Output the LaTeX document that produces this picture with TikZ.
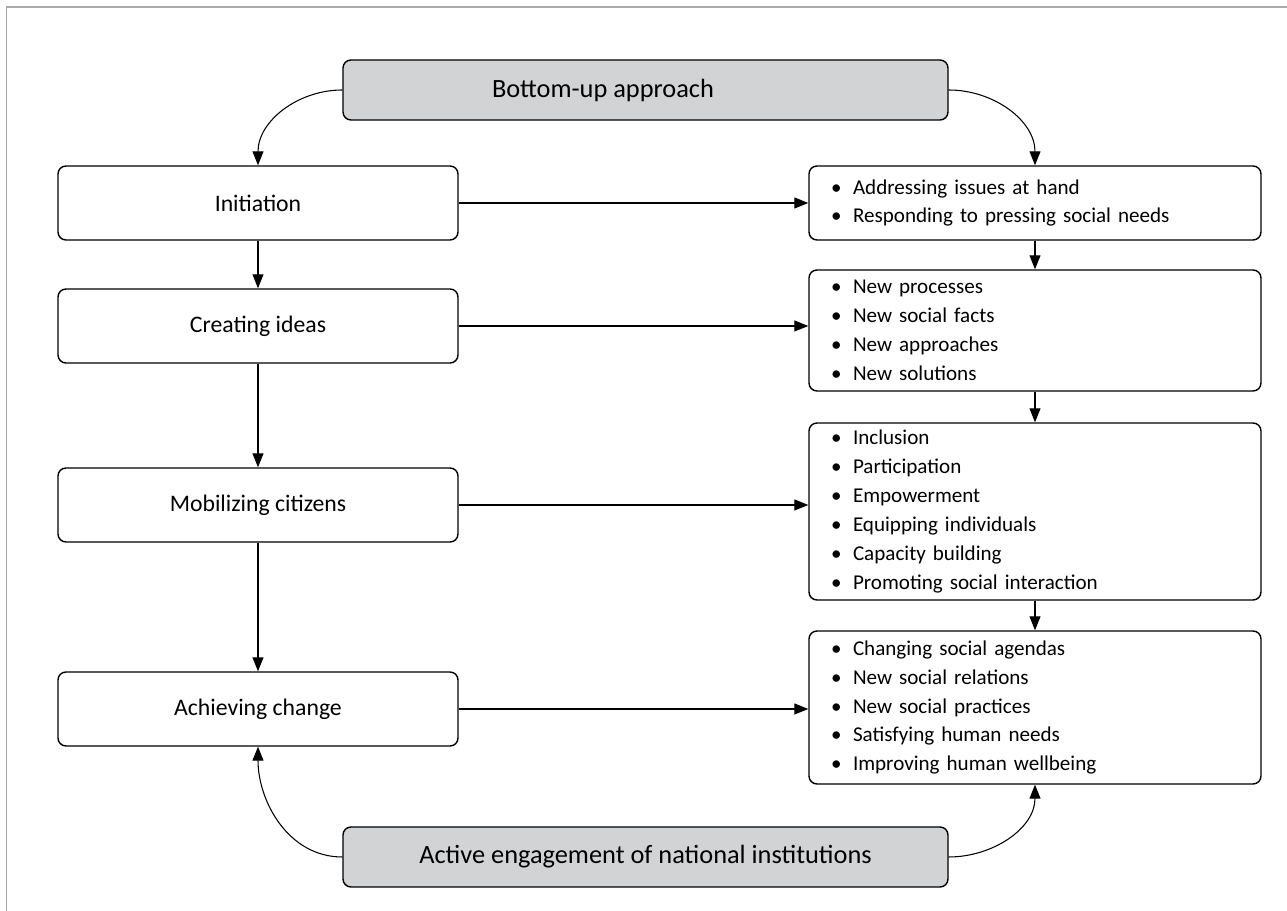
\documentclass[tikz,border=0pt]{standalone}
\usepackage{fontspec}
\setmainfont{Carlito}
\usetikzlibrary{arrows.meta}
\definecolor{boxgray}{HTML}{D2D3D5}
\definecolor{framegray}{HTML}{A9A9A9}
\newcommand{\itm}{\makebox[0.44cm][l]{\textbullet}}

\begin{document}
\begin{tikzpicture}[semithick, >={Triangle[length=0.28cm,width=0.22cm]},
    stage/.style={draw, rounded corners=0.16cm, line width=0.8pt, minimum width=8cm, minimum height=1.48cm, font=\fontsize{13.5}{16}\selectfont},
    outcome/.style={draw, rounded corners=0.16cm, line width=0.8pt, text width=8.16cm, inner xsep=0.44cm, align=left, font=\fontsize{12}{16.4}\selectfont},
    driver/.style={draw, fill=boxgray, rounded corners=0.16cm, line width=0.8pt, minimum width=12.1cm, minimum height=1.2cm, font=\fontsize{15}{18}\selectfont}]
            \useasboundingbox (0, 0) rectangle (25.74, 18.22);
            \draw[framegray, line width=1pt] (0.13, 0) -- (0.13, 18.08) -- (25.74, 18.08);

            % approaches
            \node[driver] (bottomup) at (12.91, 16.42) {Bottom-up approach\hspace*{1.7cm}};
            \node[driver] (national) at (12.91, 1.08) {Active engagement of national institutions};

            % stages
            \node[stage] (ini) at (5.16, 14.16) {Initiation};
            \node[stage] (ideas) at (5.16, 11.70) {Creating ideas};
            \node[stage] (mob) at (5.16, 8.12) {Mobilizing citizens};
            \node[stage] (change) at (5.16, 4.04) {Achieving change};

            % outcomes
            \node[outcome, minimum height=1.48cm] (res1) at (20.70, 14.16) {\itm Addressing issues at hand\\
                \itm Responding to pressing social needs};
            \node[outcome, minimum height=2.42cm] (res2) at (20.70, 11.61) {\itm New processes\\
                \itm New social facts\\
                \itm New approaches\\
                \itm New solutions};
            \node[outcome, minimum height=3.54cm] (res3) at (20.70, 7.99) {\itm Inclusion\\
                \itm Participation\\
                \itm Empowerment\\
                \itm Equipping individuals\\
                \itm Capacity building\\
                \itm Promoting social interaction};
            \node[outcome, minimum height=3.06cm] (res4) at (20.70, 4.07) {\itm Changing social agendas\\
                \itm New social relations\\
                \itm New social practices\\
                \itm Satisfying human needs\\
                \itm Improving human wellbeing};

            \draw (ini) edge[->] (ideas)
                (ideas) edge[->] (mob)
                (mob) edge[->] (change);
            \draw (res1) edge[->] (res2)
                (res2) edge[->] (res3)
                (res3) edge[->] (res4);

            \draw (ini.east) edge[->] (ini.east -| res1.west)
                (ideas.east) edge[->] (ideas.east -| res2.west)
                (mob.east) edge[->] (mob.east -| res3.west)
                (change.east) edge[->] (change.east -| res4.west);

            \draw[->] (bottomup.west) to[out=180, in=90] (ini.north);
            \draw[->] (bottomup.east) to[out=0, in=90] (res1.north);
            \draw[->] (national.west) to[out=180, in=-90] (change.south);
            \draw[->] (national.east) to[out=0, in=-90] (res4.south);
        \end{tikzpicture}
\end{document}
